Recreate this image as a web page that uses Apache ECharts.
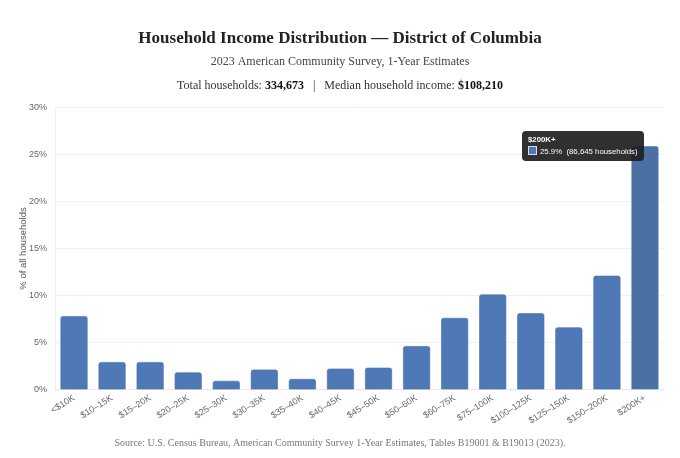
<!DOCTYPE html>
<html>
<head>
<meta charset="utf-8">
<script src="https://cdn.jsdelivr.net/npm/echarts@6/dist/echarts.min.js"></script>
<style>
html,body{margin:0;padding:0;background:#fff;}
#chart{width:680px;height:458px;}
</style>
</head>
<body>
<div id="chart"></div>
<script>
const categories = ['<$10K','$10–15K','$15–20K','$20–25K','$25–30K','$30–35K','$35–40K','$40–45K','$45–50K','$50–60K','$60–75K','$75–100K','$100–125K','$125–150K','$150–200K','$200K+'];
const sharePct = [7.8, 2.9, 2.9, 1.8, 0.9, 2.1, 1.1, 2.2, 2.3, 4.6, 7.6, 10.1, 8.1, 6.6, 12.1, 25.9];
const households = [26100, 9700, 9700, 6000, 3000, 7000, 3700, 7400, 7700, 15400, 25400, 33800, 27100, 22100, 40500, 86645];
const yTicks = [0, 5, 10, 15, 20, 25, 30];
const totalHouseholds = '334,673';
const medianIncome = '$108,210';

const serif = '"Liberation Serif", "DejaVu Serif", serif';
const sans = '"Liberation Sans", Arial, sans-serif';

const chart = echarts.init(document.getElementById('chart'));
chart.setOption({
  animation: false,
  title: [
    {
      text: 'Household Income Distribution — District of Columbia',
      left: 'center', top: 25,
      textStyle: {fontFamily: serif, fontSize: 17, fontWeight: 'bold', color: '#222'}
    },
    {
      text: '2023 American Community Survey, 1-Year Estimates',
      left: 'center', top: 51,
      textStyle: {fontFamily: serif, fontSize: 12, fontWeight: 'normal', color: '#444'}
    },
    {
      text: '{n|Total households: }{b|' + totalHouseholds + '}{n|   |   Median household income: }{b|' + medianIncome + '}',
      left: 'center', top: 75,
      textStyle: {
        fontWeight: 'normal',
        rich: {
          n: {fontFamily: serif, fontSize: 12, fontWeight: 'normal', color: '#333'},
          b: {fontFamily: serif, fontSize: 12, fontWeight: 'bold', color: '#111'}
        }
      }
    },
    {
      text: 'Source: U.S. Census Bureau, American Community Survey 1-Year Estimates, Tables B19001 & B19013 (2023).',
      left: 'center', top: 433,
      textStyle: {fontFamily: serif, fontSize: 10, fontWeight: 'normal', color: '#777'}
    }
  ],
  grid: {left: 55, right: 16, top: 107.7, bottom: 68.7},
  tooltip: {
    trigger: 'item',
    triggerOn: 'none',
    alwaysShowContent: true,
    backgroundColor: 'rgba(30,30,30,0.92)',
    borderColor: '#333',
    borderWidth: 0,
    padding: [3, 6],
    extraCssText: 'border-radius:4px;box-shadow:none;',
    position: function () { return [522, 131]; },
    formatter: function (p) {
      const i = p.dataIndex;
      return '<div style="font-family:Liberation Sans,Arial,sans-serif;color:#fff;font-size:7.8px;line-height:12px;">' +
        '<b>' + categories[i] + '</b><br>' +
        '<span style="display:inline-block;width:7px;height:7px;background:#4e78b5;border:1px solid #ddd;margin-right:3px;vertical-align:-1px;"></span>' +
        sharePct[i].toFixed(1) + '%&nbsp; (' + households[i].toLocaleString('en-US') + ' households)</div>';
    }
  },
  xAxis: {
    type: 'category',
    data: categories,
    axisTick: {show: false},
    axisLine: {lineStyle: {color: '#e6e6e6'}},
    axisLabel: {rotate: 32, fontSize: 9, color: '#666', fontFamily: sans, interval: 0, margin: 8}
  },
  yAxis: {
    type: 'value',
    min: yTicks[0], max: yTicks[yTicks.length - 1], interval: 5,
    name: '% of all households',
    nameLocation: 'middle',
    nameGap: 27,
    nameMoveOverlap: false,
    nameTextStyle: {fontSize: 9.5, color: '#555', fontFamily: sans},
    axisLine: {show: true, lineStyle: {color: '#f0f0f0'}},
    axisTick: {show: false},
    splitLine: {lineStyle: {color: '#f0f0f0'}},
    axisLabel: {formatter: '{value}%', fontSize: 9, color: '#666', fontFamily: sans, margin: 8}
  },
  series: [{
    type: 'bar',
    data: sharePct,
    barCategoryGap: '29%',
    itemStyle: {color: '#4e78b6', borderRadius: [2, 2, 0, 0], borderColor: '#4870ab', borderWidth: 0.6},
    emphasis: {itemStyle: {color: '#4a70a4'}}
  }]
});
chart.dispatchAction({type: 'highlight', seriesIndex: 0, dataIndex: 15});
chart.dispatchAction({type: 'showTip', seriesIndex: 0, dataIndex: 15});
</script>
</body>
</html>
